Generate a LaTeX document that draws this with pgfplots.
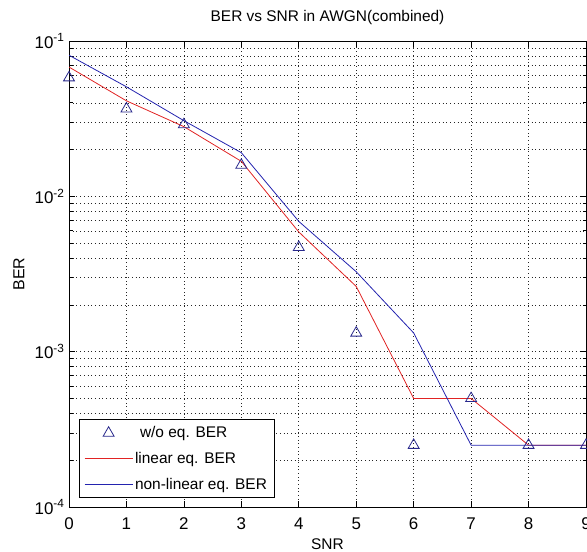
\documentclass[border=0pt]{standalone}
\usepackage{fontspec}
\setmainfont{Liberation Sans}
\usepackage{pgfplots}
\pgfplotsset{compat=1.18}
\definecolor{mblue}{RGB}{35,35,175}
\definecolor{mred}{RGB}{225,35,35}
\definecolor{mtri}{RGB}{40,40,140}
\pgfplotsset{
  lineleg/.style={legend image code/.code={\draw[##1] (0bp,0bp) -- (48bp,0bp);}},
  markleg/.style={legend image code/.code={\draw[mark repeat=2,mark phase=2,##1] plot coordinates {(0bp,0bp)(24bp,0bp)(48bp,0bp)};}},
}
\begin{document}
\begin{tikzpicture}
\begin{axis}[
  name=ax,
  scale only axis, width=517bp, height=466bp,
  ymode=log, xmin=0, xmax=9, ymin=1e-4, ymax=1e-1,
  xtick={0,1,2,3,4,5,6,7,8,9},
  ytick={1e-4,1e-3,1e-2,1e-1},
  yticklabels={10\textsuperscript{-4},10\textsuperscript{-3},10\textsuperscript{-2},10\textsuperscript{-1}},
  minor ytick={2e-4,3e-4,4e-4,5e-4,6e-4,7e-4,8e-4,9e-4,2e-3,3e-3,4e-3,5e-3,6e-3,7e-3,8e-3,9e-3,2e-2,3e-2,4e-2,5e-2,6e-2,7e-2,8e-2,9e-2},
  /pgf/number format/assume math mode=true,
  tick label style={font=\fontsize{17}{17}\selectfont},
  xticklabel style={anchor=base, yshift=-22bp},
  yticklabel style={xshift=-1bp},
  grid=both,
  major grid style={black!85, line width=0.6bp, dash pattern=on 0.8bp off 2.9bp},
  minor grid style={black!85, line width=0.6bp, dash pattern=on 0.8bp off 2.9bp},
  axis line style={line width=0.8bp},
  tick style={black, line width=0.7bp},
  major tick length=6bp, minor tick length=3.5bp,
  tick align=inside,
  xtick pos=both, ytick pos=both,
  title={BER vs SNR in AWGN(combined)},
  title style={font=\fontsize{15.5}{15.5}\selectfont, at={(0.5,1)}, anchor=base, yshift=14bp},
  xlabel={SNR},
  xlabel style={font=\fontsize{15.5}{15.5}\selectfont, at={(axis description cs:0.5,0)}, anchor=base, yshift=-42bp},
  ylabel={BER},
  ylabel style={font=\fontsize{16}{16}\selectfont, at={(axis description cs:-0.0967,0.5)}, anchor=center},
  legend style={at={(0.019,0.019)}, anchor=south west, draw=black, line width=0.8bp, fill=white,
    font=\fontsize{15.5}{15.5}\selectfont, inner xsep=5bp, inner ysep=5bp, row sep=9bp,
    nodes={inner sep=2bp}},
  legend cell align=left,
]
\addplot[only marks, mark=triangle, mark size=6.3bp, mtri, mark options={line width=0.8bp}, markleg]
  coordinates {(0,0.058)(1,0.0366)(2,0.029)(3,0.0159)(4,0.0047)(5,0.00132)(6,0.00025)(7,0.0005)(8,0.00025)(9,0.00025)};
\addlegendentry{\hspace{5bp}w/o eq. BER}
\addplot[mred, line width=0.8bp, lineleg]
  coordinates {(0,0.068)(1,0.0412)(2,0.0281)(3,0.0168)(4,0.0059)(5,0.00263)(6,0.0005)(7,0.0005)(8,0.00025)(9,0.00025)};
\addlegendentry{linear eq. BER}
\addplot[mblue, line width=0.8bp, lineleg]
  coordinates {(0,0.081)(1,0.0507)(2,0.0307)(3,0.0191)(4,0.0069)(5,0.00327)(6,0.00132)(7,0.00025)(8,0.00025)(9,0.00025)};
\addlegendentry{non-linear eq. BER}
\end{axis}
\pgfresetboundingbox
\path ([shift={(-69bp,-44bp)}]ax.south west) rectangle ([shift={(1bp,41bp)}]ax.north east);
\end{tikzpicture}
\end{document}
